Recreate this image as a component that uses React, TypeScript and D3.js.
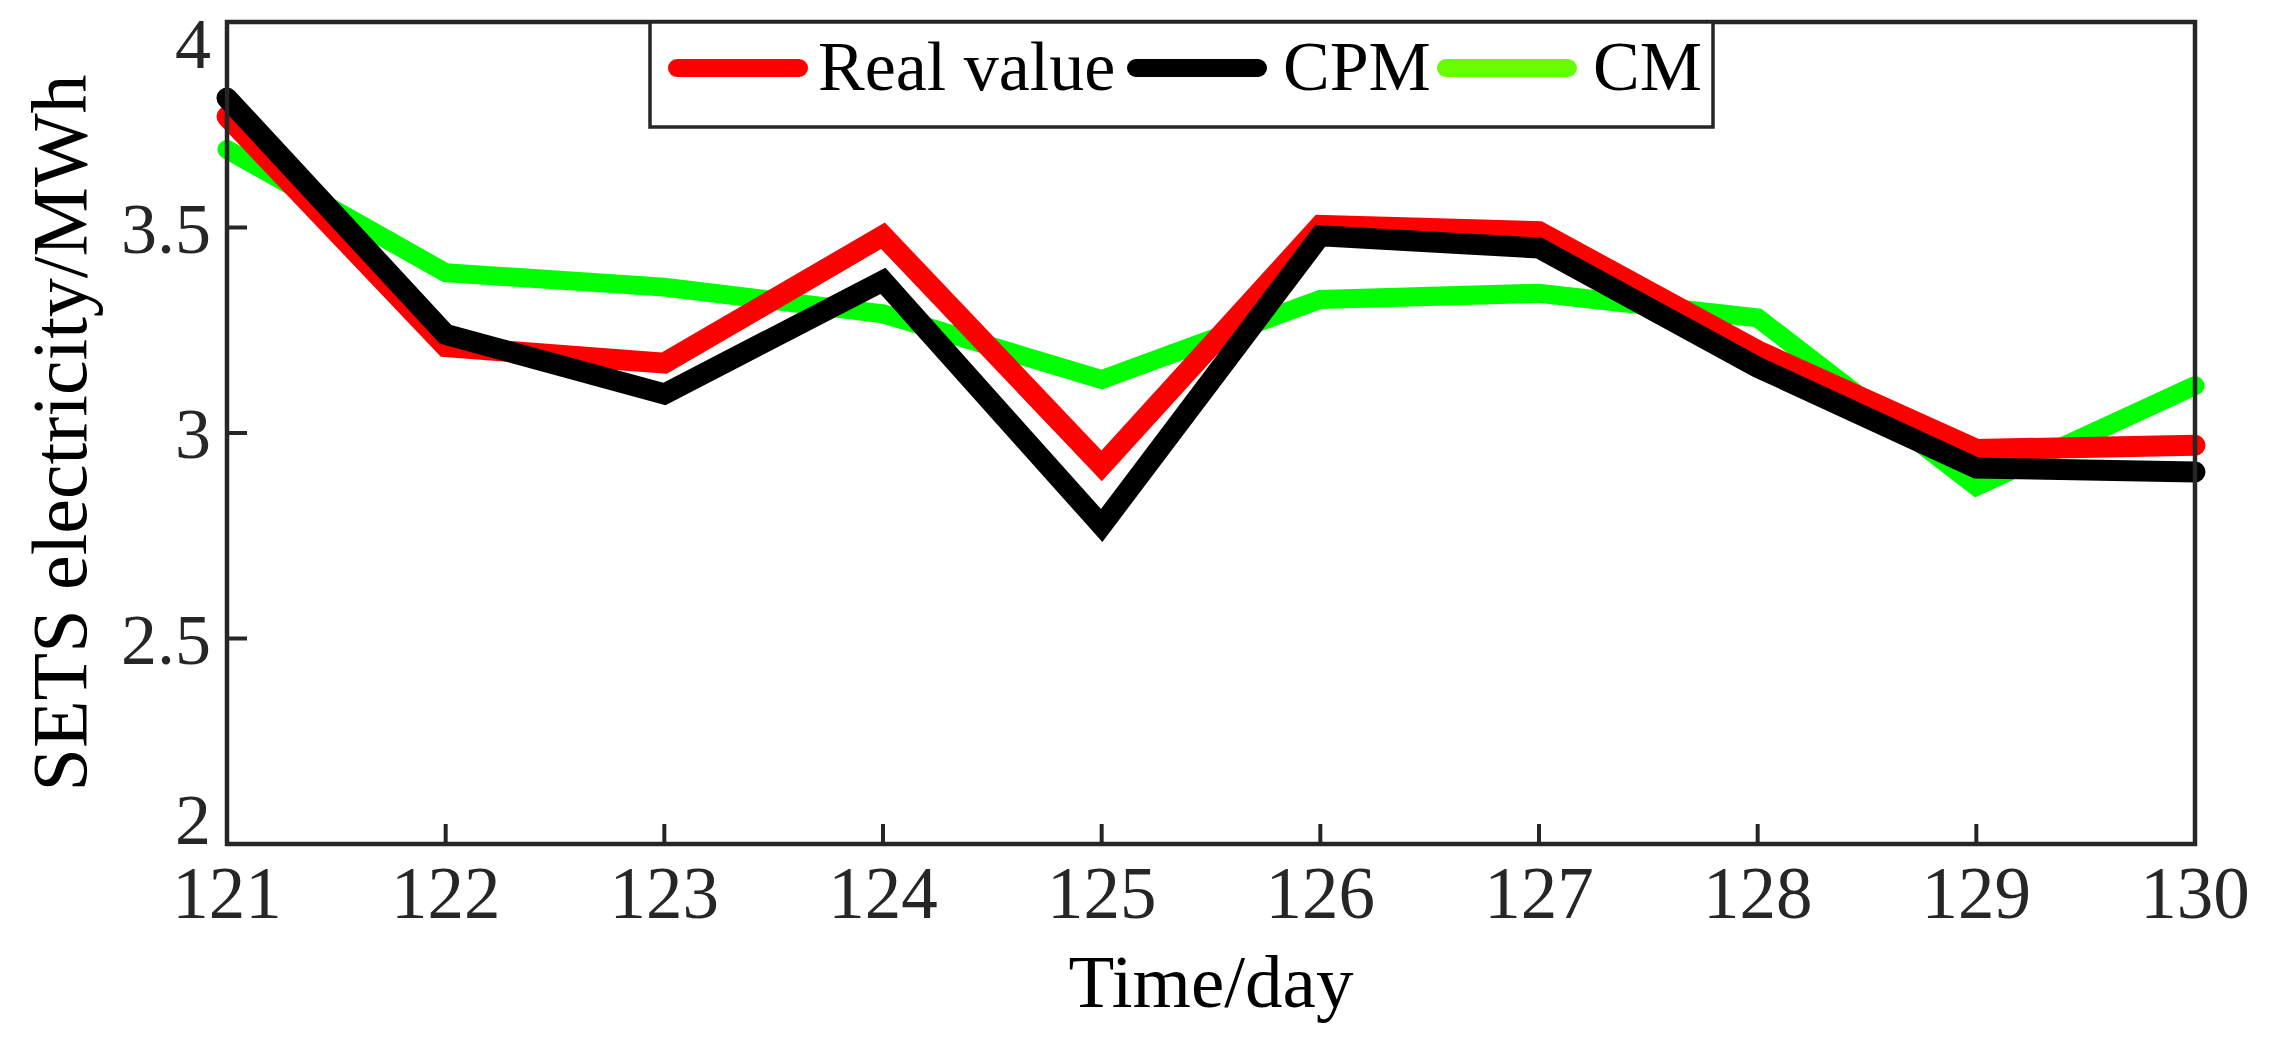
import * as d3 from 'd3';

const days = [121, 122, 123, 124, 125, 126, 127, 128, 129, 130];
const realValue = [3.77, 3.21, 3.17, 3.48, 2.92, 3.505, 3.49, 3.2, 2.96, 2.97];
const cpm = [3.815, 3.24, 3.095, 3.37, 2.775, 3.48, 3.45, 3.16, 2.915, 2.905];
const cm = [3.69, 3.39, 3.355, 3.29, 3.13, 3.325, 3.34, 3.28, 2.87, 3.115];
const yTicks = [2, 2.5, 3, 3.5, 4];
const yTickLabels = ['2', '2.5', '3', '3.5', '4'];

const seriesNames = ['Real value', 'CPM', 'CM'];
const seriesColors = ['#ff0000', '#000000', '#00ff00'];
const legendColors = ['#ff0000', '#000000', '#66ff00'];

const W = 2274;
const H = 1045;
const margin = { top: 22, right: 79, bottom: 201, left: 227 };
const axisColor = '#262626';
const font = '"Liberation Serif", "Times New Roman", serif';

export default function App() {
  const innerW = W - margin.left - margin.right;
  const innerH = H - margin.top - margin.bottom;

  const x = d3.scaleLinear().domain([121, 130]).range([0, innerW]);
  const y = d3.scaleLinear().domain([2, 4]).range([innerH, 0]);

  const line = d3
    .line<number>()
    .x((_, i) => x(days[i]))
    .y((d) => y(d));

  const series = [realValue, cpm, cm];
  // draw green first, then red, black on top
  const drawOrder = [2, 0, 1];

  // legend layout
  const legend = { x: 650 - margin.left, y: 0, w: 1063, h: 105 };
  const legendItems = [
    { lx: 668, tx: 818 },
    { lx: 1127, tx: 1283 },
    { lx: 1437, tx: 1593 },
  ];
  const legendLineLen = 140;

  return (
    <svg
      width={W}
      height={H}
      style={{ position: 'absolute', left: 0, top: 0, display: 'block', background: '#fff' }}
    >
      <g transform={`translate(${margin.left},${margin.top})`}>
        {/* series lines */}
        {drawOrder.map((si) => (
          <path
            key={si}
            d={line(series[si]) || ''}
            fill="none"
            stroke={seriesColors[si]}
            strokeWidth={si === 2 ? 19 : 21}
            strokeLinecap="round"
            strokeLinejoin="miter"
          />
        ))}

        {/* axes box */}
        <rect
          x={0}
          y={0}
          width={innerW}
          height={innerH}
          fill="none"
          stroke={axisColor}
          strokeWidth={4.5}
        />

        {/* x ticks */}
        {days.map((d) => (
          <g key={d}>
            <line x1={x(d)} x2={x(d)} y1={innerH} y2={innerH - 20} stroke={axisColor} strokeWidth={4} />
            <text
              x={x(d)}
              y={innerH + 74}
              textAnchor="middle"
              fontFamily={font}
              fontSize={73}
              fill={axisColor}
            >
              {d}
            </text>
          </g>
        ))}

        {/* y ticks */}
        {yTicks.map((t, i) => {
          const cy = Math.min(Math.max(y(t), 21), innerH - 25);
          return (
            <g key={t}>
              <line x1={0} x2={20} y1={y(t)} y2={y(t)} stroke={axisColor} strokeWidth={4} />
              <text
                x={-16}
                y={cy + 25}
                textAnchor="end"
                fontFamily={font}
                fontSize={72}
                fill={axisColor}
              >
                {yTickLabels[i]}
              </text>
            </g>
          );
        })}

        {/* axis labels */}
        <text
          x={innerW / 2}
          y={innerH + 163}
          textAnchor="middle"
          fontFamily={font}
          fontSize={75}
          fill="#000"
        >
          Time/day
        </text>
        <text
          transform={`translate(${86 - margin.left},${innerH / 2}) rotate(-90)`}
          textAnchor="middle"
          fontFamily={font}
          fontSize={78}
          fill="#000"
        >
          SETS electricity/MWh
        </text>
      </g>

      {/* legend */}
      <g transform={`translate(${margin.left},${margin.top})`}>
        <rect
          x={legend.x}
          y={legend.y}
          width={legend.w}
          height={legend.h}
          fill="#fff"
          stroke={axisColor}
          strokeWidth={3.5}
        />
      </g>
      {seriesNames.map((name, i) => (
        <g key={name}>
          <line
            x1={legendItems[i].lx + 9}
            x2={legendItems[i].lx + legendLineLen - 9}
            y1={68}
            y2={68}
            stroke={legendColors[i]}
            strokeWidth={18}
            strokeLinecap="round"
          />
          <text x={legendItems[i].tx} y={90} fontFamily={font} fontSize={70} fill="#000">
            {name}
          </text>
        </g>
      ))}
    </svg>
  );
}
